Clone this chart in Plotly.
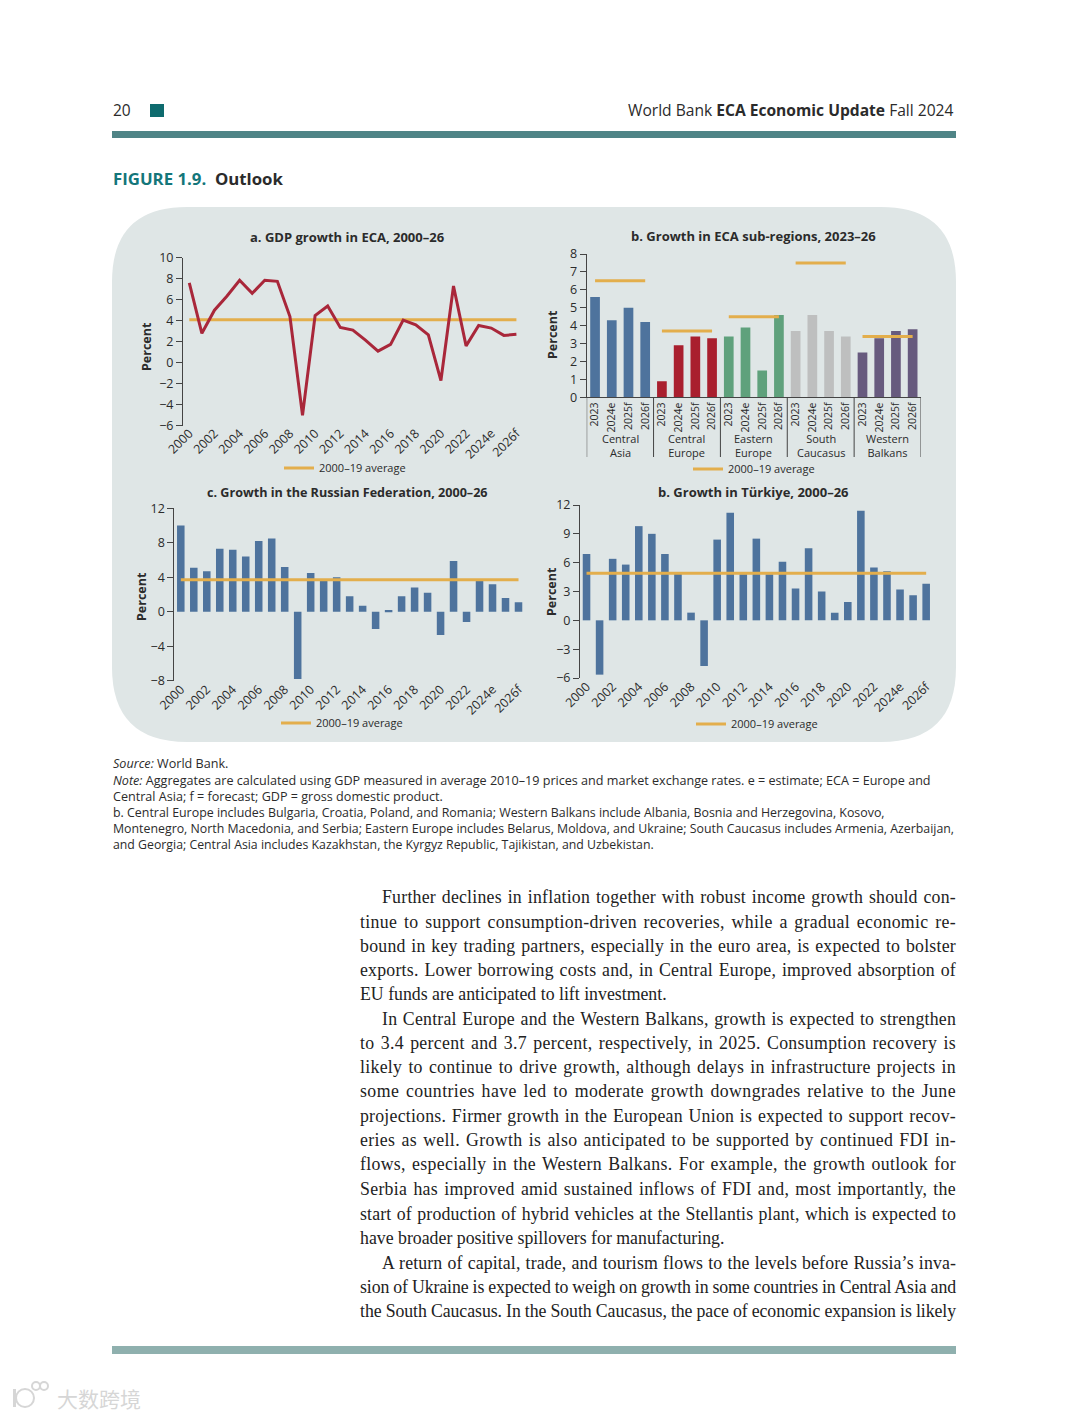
import plotly.graph_objects as go

W, H = 1080, 1418
SANS = "Open Sans"
SERIF = "Liberation Serif"
INK = "#2b2b2b"
AXIS = "#444444"
BLUE = "#4E739D"
GOLD = "#E3AE4C"

years = [str(y) for y in range(2000, 2024)] + ["2024e", "2025f", "2026f"]
eca_growth = [7.6, 2.8, 5.0, 6.35, 7.85, 6.6, 7.85, 7.75, 4.4, -5.0, 4.5, 5.4, 3.35, 3.1, 2.15, 1.1, 1.75, 4.05, 3.6, 2.65, -1.7, 7.3, 1.6, 3.55, 3.3, 2.6, 2.7]
eca_avg = 4.1
russia_growth = [10.0, 5.1, 4.7, 7.3, 7.2, 6.4, 8.2, 8.5, 5.2, -7.8, 4.5, 3.65, 4.0, 1.8, 0.7, -2.0, 0.2, 1.8, 2.8, 2.2, -2.7, 5.9, -1.2, 3.6, 3.2, 1.6, 1.1]
russia_avg = 3.7
turkiye_growth = [6.9, -5.65, 6.4, 5.8, 9.8, 9.0, 6.9, 4.85, 0.8, -4.75, 8.4, 11.2, 4.8, 8.5, 4.8, 6.1, 3.3, 7.5, 3.0, 0.8, 1.9, 11.4, 5.5, 5.1, 3.2, 2.6, 3.8]
turkiye_avg = 4.9
region_years = ["2023", "2024e", "2025f", "2026f"]
regions = ["Central<br>Asia", "Central<br>Europe", "Eastern<br>Europe", "South<br>Caucasus", "Western<br>Balkans"]
region_growth = [[5.6, 4.3, 5.0, 4.2], [0.9, 2.9, 3.4, 3.3], [3.4, 3.9, 1.5, 4.6], [3.7, 4.6, 3.7, 3.4], [2.5, 3.3, 3.7, 3.8]]
region_avg = [6.5, 3.7, 4.5, 7.5, 3.4]
region_colors = ["#4E739D", "#A91F2E", "#5FA17C", "#BEBFBF", "#675A7E"]

notes = [
    (763, 12.6, "<i>Source:</i> World Bank."),
    (780, 12.6, "<i>Note:</i> Aggregates are calculated using GDP measured in average 2010–19 prices and market exchange rates. e = estimate; ECA = Europe and"),
    (796, 12.6, "Central Asia; f = forecast; GDP = gross domestic product."),
    (812, 12.4, "b. Central Europe includes Bulgaria, Croatia, Poland, and Romania; Western Balkans include Albania, Bosnia and Herzegovina, Kosovo,"),
    (828, 12.35, "Montenegro, North Macedonia, and Serbia; Eastern Europe includes Belarus, Moldova, and Ukraine; South Caucasus includes Armenia, Azerbaijan,"),
    (844, 12.3, "and Georgia; Central Asia includes Kazakhstan, the Kyrgyz Republic, Tajikistan, and Uzbekistan."),
]
body = [
    (382, 897, "Further declines in inflation together with robust income growth should con-"),
    (360, 922, "tinue to support consumption-driven recoveries, while a gradual economic re-"),
    (360, 946, "bound in key trading partners, especially in the euro area, is expected to bolster"),
    (360, 970, "exports. Lower borrowing costs and, in Central Europe, improved absorption of"),
    (360, 994, "EU funds are anticipated to lift investment."),
    (382, 1019, "In Central Europe and the Western Balkans, growth is expected to strengthen"),
    (360, 1043, "to 3.4 percent and 3.7 percent, respectively, in 2025. Consumption recovery is"),
    (360, 1067, "likely to continue to drive growth, although delays in infrastructure projects in"),
    (360, 1091, "some countries have led to moderate growth downgrades relative to the June"),
    (360, 1116, "projections. Firmer growth in the European Union is expected to support recov-"),
    (360, 1140, "eries as well. Growth is also anticipated to be supported by continued FDI in-"),
    (360, 1164, "flows, especially in the Western Balkans. For example, the growth outlook for"),
    (360, 1189, "Serbia has improved amid sustained inflows of FDI and, most importantly, the"),
    (360, 1214, "start of production of hybrid vehicles at the Stellantis plant, which is expected to"),
    (360, 1238, "have broader positive spillovers for manufacturing."),
    (382, 1263, "A return of capital, trade, and tourism flows to the levels before Russia’s inva-"),
    (360, 1287, "sion of Ukraine is expected to weigh on growth in some countries in Central Asia and"),
    (360, 1311, "the South Caucasus. In the South Caucasus, the pace of economic expansion is likely"),
]


def px(v):
    return v / W


def py(v):
    return 1 - v / H


fig = go.Figure()
annos = []
shapes = []


def text(x, y, s, size, color=INK, family=SANS, anchor="left", angle=0):
    annos.append(dict(x=px(x), y=py(y), xref="paper", yref="paper", text=s, showarrow=False,
                      xanchor=anchor, yanchor="middle", align="left", borderpad=0, borderwidth=0, textangle=angle,
                      font=dict(size=size, color=color, family=family)))


def rect(x0, y0, x1, y1, color):
    shapes.append(dict(type="rect", xref="paper", yref="paper", x0=px(x0), x1=px(x1), y0=py(y0), y1=py(y1),
                       fillcolor=color, line_width=0, layer="below"))


def rounded(x0, y0, x1, y1, r, color):
    a, b, c, d = px(x0), px(x1), py(y0), py(y1)
    rx, ry = r / W, r / H
    path = (f"M {a+rx} {c} L {b-rx} {c} Q {b} {c} {b} {c-ry} L {b} {d+ry} Q {b} {d} {b-rx} {d} "
            f"L {a+rx} {d} Q {a} {d} {a} {d+ry} L {a} {c-ry} Q {a} {c} {a+rx} {c} Z")
    shapes.append(dict(type="path", path=path, xref="paper", yref="paper", fillcolor=color, line_width=0, layer="below"))


def ring(cx, cy, r, color):
    shapes.append(dict(type="circle", xref="paper", yref="paper", x0=px(cx - r), x1=px(cx + r), y0=py(cy + r), y1=py(cy - r),
                       fillcolor="rgba(0,0,0,0)", line=dict(color=color, width=2), layer="below"))


rect(112, 131, 956, 138, "#4F8486")
rect(112, 1346, 956, 1354, "#8FB0AE")
rect(150, 104, 164, 117, "#0E6B6E")
rounded(112, 207, 956, 742, 75, "#DFE6E6")
WM = "#d6d6d6"
ring(25, 1398, 9, WM)
ring(36, 1386, 4, WM)
ring(44, 1386, 4, WM)
rect(13, 1389, 16, 1407, WM)

text(113, 110, "20", 15.5)
text(954, 110, "World Bank <b>ECA Economic Update</b> Fall 2024", 15.6, anchor="right")
text(113, 178.5, "<b><span style='color:#14767A'>FIGURE 1.9.</span>  Outlook</b>", 16.8)
text(347, 236.5, "<b>a. GDP growth in ECA, 2000–26</b>", 13, anchor="center")
text(753, 235.5, "<b>b. Growth in ECA sub-regions, 2023–26</b>", 13, anchor="center")
text(347, 492, "<b>c. Growth in the Russian Federation, 2000–26</b>", 12.6, anchor="center")
text(753, 492, "<b>b. Growth in Türkiye, 2000–26</b>", 13, anchor="center")
text(147, 347, "<b>Percent</b>", 12.5, anchor="center", angle=-90)
text(553, 335, "<b>Percent</b>", 12.5, anchor="center", angle=-90)
text(141, 597, "<b>Percent</b>", 12.5, anchor="center", angle=-90)
text(551, 592, "<b>Percent</b>", 12.5, anchor="center", angle=-90)
for y, size, s in notes:
    text(113, y, s, size)
for x, y, s in body:
    text(x, y, s, 17.8, family=SERIF, color="#222222")
text(57, 1398, "大数跨境", 21, color=WM, family="Noto Sans CJK SC")


def y_axis(box, yr, dtick, anchor):
    x0, x1, y0, y1 = box
    return dict(domain=[py(y1), py(y0)], range=yr, dtick=dtick, anchor=anchor, showline=True, linecolor=AXIS,
                linewidth=1, ticks="outside", ticklen=6, tickcolor=AXIS, showgrid=False, zeroline=False,
                tickfont=dict(size=12.5, color=INK, family=SANS))


def year_axes(box, yr, x_id, y_id, standoff):
    """Bottom axis carries labels; a second axis overlaid at y = 0 carries the ticks."""
    x0, x1, y0, y1 = box
    zero_y = y1 + (y0 - y1) * (yr[1] / (yr[1] - yr[0]))
    lab = dict(domain=[px(x0), px(x1)], type="category", categoryorder="array", categoryarray=years,
               range=[-0.5, len(years) - 0.5], tickmode="array", tickvals=years[::2], tickangle=-45,
               ticks="", showline=False, showgrid=False, zeroline=False, anchor=y_id, ticklabelstandoff=standoff,
               tickfont=dict(size=12.5, color=INK, family=SANS))
    tck = dict(domain=[px(x0), px(x1)], overlaying=x_id, anchor="free", position=py(zero_y),
               range=[-0.5, len(years) - 0.5], tick0=-0.5, dtick=1, ticks="outside", ticklen=6, tickcolor=AXIS,
               showticklabels=False, showline=True, linecolor=AXIS, linewidth=1, showgrid=False, zeroline=False)
    return lab, tck


def avg_trace(xa, ya, x, val, legend, show=True):
    return go.Scatter(x=x, y=[val] * len(x), mode="lines", xaxis=xa, yaxis=ya, line=dict(color=GOLD, width=3),
                      name="2000–19 average", legend=legend, showlegend=show, hoverinfo="skip")


# panel boxes: x0, x1, ytop, ybottom
box_a = (183, 522.7, 257.7, 425.7)
box_b = (586.7, 921, 254, 397.3)
box_c = (174.3, 525, 508.3, 680.7)
box_d = (580, 932.7, 505, 678)

# panel a
fig.add_trace(avg_trace("x", "y", years, eca_avg, "legend"))
fig.add_trace(go.Scatter(x=years, y=eca_growth, mode="lines", xaxis="x", yaxis="y", showlegend=False,
                         line=dict(color="#A9273A", width=3)))

# panel b
n_group = len(region_years)
pos = list(range(len(regions) * n_group))
for i, (vals, col) in enumerate(zip(region_growth, region_colors)):
    xs = pos[i * n_group:(i + 1) * n_group]
    fig.add_trace(go.Bar(x=xs, y=vals, marker=dict(color=col, line_width=0), xaxis="x3", yaxis="y2", showlegend=False))
for i, av in enumerate(region_avg):
    xs = pos[i * n_group:(i + 1) * n_group]
    fig.add_trace(avg_trace("x3", "y2", xs, av, "legend2", i == 0))
    annos.append(dict(x=(xs[0] + xs[-1]) / 2, xref="x3", y=py(446), yref="paper", text=regions[i], showarrow=False,
                      xanchor="center", yanchor="middle", font=dict(size=11, color=INK, family=SANS)))
for i in range(len(regions) + 1):
    edge = i * n_group - 0.5
    shapes.append(dict(type="line", xref="x3", yref="paper", x0=edge, x1=edge, y0=py(box_b[3]), y1=py(457),
                       line=dict(color=AXIS, width=1)))

# panel c
fig.add_trace(go.Bar(x=years, y=russia_growth, marker=dict(color=BLUE, line_width=0), xaxis="x4", yaxis="y3", showlegend=False))
fig.add_trace(avg_trace("x4", "y3", years, russia_avg, "legend3"))
# panel d
fig.add_trace(go.Bar(x=years, y=turkiye_growth, marker=dict(color=BLUE, line_width=0), xaxis="x6", yaxis="y4", showlegend=False))
fig.add_trace(avg_trace("x6", "y4", years, turkiye_avg, "legend4"))

lab_a, tck_a = year_axes(box_a, [-6, 10], "x", "y", -3)
lab_c, tck_c = year_axes(box_c, [-8, 12], "x4", "y3", -2)
lab_d, tck_d = year_axes(box_d, [-6, 12], "x6", "y4", -2)


def leg(x, y):
    return dict(x=px(x), y=py(y), xanchor="left", yanchor="middle", bgcolor="rgba(0,0,0,0)",
                font=dict(size=11, color=INK, family=SANS), itemwidth=30, orientation="h")


fig.update_layout(
    width=W, height=H, margin=dict(l=0, r=0, t=0, b=0, autoexpand=False), paper_bgcolor="white",
    plot_bgcolor="rgba(0,0,0,0)", autosize=False, bargap=0.42, hovermode=False,
    xaxis=lab_a, xaxis2=tck_a,
    yaxis=y_axis(box_a, [-6, 10], 2, "x"),
    xaxis3=dict(domain=[px(box_b[0]), px(box_b[1])], range=[-0.5, len(pos) - 0.5], anchor="y2", tickangle=-90, ticks="",
                tickmode="array", tickvals=pos, ticktext=region_years * len(regions),
                showline=True, linecolor=AXIS, linewidth=1, showgrid=False, zeroline=False,
                tickfont=dict(size=10.5, color=INK, family=SANS)),
    yaxis2=y_axis(box_b, [0, 8], 1, "x3"),
    xaxis4=lab_c, xaxis5=tck_c,
    yaxis3=y_axis(box_c, [-8, 12], 4, "x4"),
    xaxis6=lab_d, xaxis7=tck_d,
    yaxis4=y_axis(box_d, [-6, 12], 3, "x6"),
    legend=leg(279, 468), legend2=leg(688, 469), legend3=leg(276, 723), legend4=leg(691, 724),
    annotations=annos, shapes=shapes, showlegend=True,
    font=dict(family=SANS),
)

justify = """
document.body.style.margin='0';document.body.style.overflow='hidden';
document.querySelectorAll('.annotation-text').forEach(function(t){
  if(!t.style.fontFamily.includes('Serif'))return;
  var left=t.getBoundingClientRect().left, target=956-left, len=t.getComputedTextLength();
  var s=t.textContent, n=(s.match(/ /g)||[]).length;
  if(n&&len>0.85*target){
    var gap=target-len;
    t.style.letterSpacing=(0.6*gap/s.length)+'px';
    t.style.wordSpacing=(0.4*gap/n)+'px';
  }
});
"""
fig.write_html("out.html", post_script=justify, config={"displayModeBar": False})
